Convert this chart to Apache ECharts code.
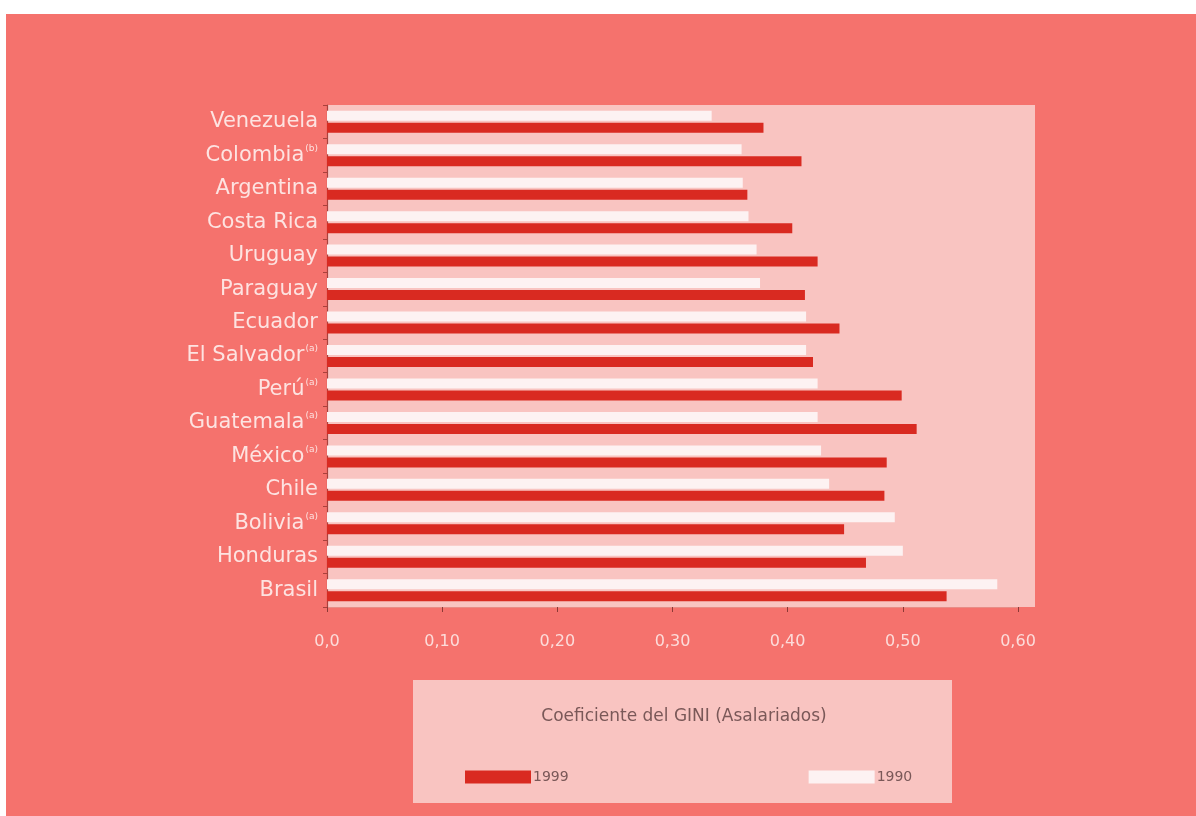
<!DOCTYPE html>
<html>
<head>
<meta charset="utf-8">
<script src="https://cdn.jsdelivr.net/npm/echarts@6/dist/echarts.min.js"></script>
<style>
html,body{margin:0;padding:0;background:#ffffff;}
#chart{width:1196px;height:816px;}
</style>
</head>
<body>
<div id="chart"></div>
<script>
const categories = ['Venezuela', 'Colombia', 'Argentina', 'Costa Rica', 'Uruguay', 'Paraguay', 'Ecuador', 'El Salvador', 'Perú', 'Guatemala', 'México', 'Chile', 'Bolivia', 'Honduras', 'Brasil'];
const notes = ['', '(b)', '', '', '', '', '', '(a)', '(a)', '(a)', '(a)', '', '(a)', '', ''];
const values1990 = [0.334, 0.360, 0.361, 0.366, 0.373, 0.376, 0.416, 0.416, 0.426, 0.426, 0.429, 0.436, 0.493, 0.500, 0.582];
const values1999 = [0.379, 0.412, 0.365, 0.404, 0.426, 0.415, 0.445, 0.422, 0.499, 0.512, 0.486, 0.484, 0.449, 0.468, 0.538];
const xTicks = [0, 0.1, 0.2, 0.3, 0.4, 0.5, 0.6];
const xTickLabels = ['0,0', '0,10', '0,20', '0,30', '0,40', '0,50', '0,60'];
const legendTitle = 'Coeficiente del GINI (Asalariados)';
const seriesNames = ['1999', '1990'];

const chart = echarts.init(document.getElementById('chart'));
const font = 'DejaVu Sans';

const option = {
  backgroundColor: '#ffffff',
  animation: false,
  textStyle: { fontFamily: font },
  graphic: [
    { type: 'rect', z: -10, shape: { x: 6, y: 14, width: 1190, height: 802 }, style: { fill: '#f5726d' } },
    { type: 'rect', z: -9, shape: { x: 327, y: 105, width: 708, height: 502 }, style: { fill: '#f9c4c1' } },
    { type: 'rect', z: -9, shape: { x: 413, y: 680, width: 539, height: 123 }, style: { fill: '#f9c4c1' } },
    { type: 'text', z: 5, style: { x: 684, y: 717, text: legendTitle, fill: '#7a5858', fontSize: 17, fontFamily: font, align: 'center', verticalAlign: 'middle' } }
  ],
  legend: {
    data: seriesNames,
    left: 460,
    top: 765,
    itemWidth: 66,
    itemHeight: 13,
    itemGap: 240,
    icon: 'rect',
    textStyle: { color: '#7a5858', fontSize: 14, fontFamily: font, padding: [0, 0, 0, -3] }
  },
  grid: { left: 327, right: 178, top: 105, bottom: 209, containLabel: false },
  xAxis: {
    type: 'value',
    min: 0,
    max: 0.6,
    interval: 0.1,
    axisLine: { show: true, lineStyle: { color: '#e88c86', width: 1 } },
    axisTick: { show: true, length: 5, lineStyle: { color: '#8c3a36' } },
    splitLine: { show: false },
    axisLabel: {
      color: '#fcdcda',
      fontSize: 16,
      margin: 27,
      formatter: function (v) {
        const i = xTicks.findIndex(t => Math.abs(t - v) < 1e-9);
        return i >= 0 ? xTickLabels[i] : '';
      }
    }
  },
  yAxis: {
    type: 'category',
    data: categories,
    inverse: true,
    axisLine: { show: true, lineStyle: { color: '#a8413c', width: 1.2 } },
    axisTick: { show: true, length: 4, lineStyle: { color: '#a8413c' } },
    axisLabel: {
      color: '#fde3e1',
      fontSize: 21,
      margin: 9,
      formatter: function (v, idx) {
        return notes[idx] ? v + '{s|' + notes[idx] + '}' : v;
      },
      rich: { s: { fontSize: 9, color: '#fde3e1', padding: [0, 0, 14, 1] } }
    }
  },
  series: [
    {
      name: '1990',
      type: 'bar',
      data: values1990,
      barWidth: 10,
      barGap: '20%',
      itemStyle: { color: '#fdf2f2' }
    },
    {
      name: '1999',
      type: 'bar',
      data: values1999,
      barWidth: 10,
      barGap: '20%',
      itemStyle: { color: '#d92a21' }
    }
  ]
};
chart.setOption(option);
</script>
</body>
</html>
